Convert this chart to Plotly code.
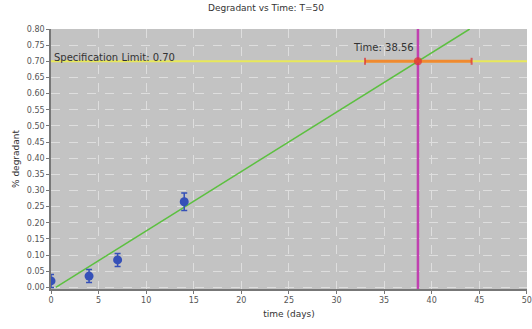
import plotly.graph_objects as go

# data
time_days = [0, 4, 7, 14]
degradant = [0.02, 0.035, 0.085, 0.265]
degradant_err = [0.02, 0.02, 0.02, 0.027]
fit_x = [0.5, 44.0]
fit_y = [0.0, 0.80]
spec_limit = 0.70
cross_time = 38.56
ci_low, ci_high = 33.0, 44.2
x_range = [0, 50.02]
y_range = [-0.005, 0.80]

FONT = "DejaVu Sans"
fig = go.Figure()

# spec limit line
fig.add_trace(go.Scatter(x=x_range, y=[spec_limit, spec_limit], mode="lines",
                         line=dict(color="#e8e85a", width=2), hoverinfo="skip"))
# fit line
fig.add_trace(go.Scatter(x=fit_x, y=fit_y, mode="lines",
                         line=dict(color="#5cc040", width=1.5), hoverinfo="skip"))
# vertical time line
fig.add_trace(go.Scatter(x=[cross_time, cross_time], y=y_range, mode="lines",
                         line=dict(color="#c040b0", width=2.5), hoverinfo="skip"))
# confidence interval bar
fig.add_trace(go.Scatter(x=[ci_low, ci_high], y=[spec_limit, spec_limit], mode="lines",
                         line=dict(color="#f08a30", width=3), hoverinfo="skip"))
fig.add_trace(go.Scatter(x=[ci_low, cross_time, ci_high], y=[spec_limit] * 3, mode="markers",
                         marker=dict(color="#e03030", size=[5, 6, 5], symbol=["line-ns", "circle", "line-ns"],
                                     line=dict(color="#e03030", width=2)),
                         hoverinfo="skip"))
# data points
fig.add_trace(go.Scatter(x=time_days, y=degradant, mode="markers",
                         marker=dict(color="#3550b8", size=9),
                         error_y=dict(type="data", array=degradant_err, color="#3550b8",
                                      thickness=1.5, width=3)))

fig.add_annotation(x=0.1, y=spec_limit, text="Specification Limit: 0.70", showarrow=False,
                   xanchor="left", yanchor="bottom", yshift=-4,
                   font=dict(family=FONT, size=10, color="#333"))
fig.add_annotation(x=cross_time, y=0.742, text="Time: 38.56", showarrow=False,
                   xanchor="right", yanchor="middle", xshift=-2,
                   font=dict(family=FONT, size=10, color="#333"))

fig.update_layout(
    width=532, height=329,
    margin=dict(l=51, r=5, t=29, b=40),
    paper_bgcolor="white", plot_bgcolor="#c3c3c3",
    showlegend=False,
    title=dict(text="Degradant vs Time: T=50", x=0.5, xanchor="center", y=0.985, yanchor="top",
               font=dict(family=FONT, size=9, color="#333")),
    font=dict(family=FONT, size=8, color="#555"),
)
fig.update_xaxes(range=x_range, dtick=5, tick0=0, showgrid=True, gridcolor="#dedede", griddash="dash",
                 gridwidth=1, zeroline=False, showline=True, linecolor="#777", linewidth=1.5,
                 ticks="outside", ticklen=3, tickcolor="#777", ticklabeloverflow="allow",
                 automargin=False,
                 title=dict(text="time (days)", font=dict(family=FONT, size=9, color="#333"), standoff=6))
fig.update_yaxes(range=y_range, dtick=0.05, tick0=0, tickformat=".2f", showgrid=True,
                 gridcolor="#dedede", griddash="dash", gridwidth=1, zeroline=False,
                 showline=True, linecolor="#777", linewidth=1.5,
                 ticks="outside", ticklen=3, tickcolor="#777",
                 title=dict(text="% degradant", font=dict(family=FONT, size=9, color="#333"), standoff=6))

fig.write_html("out.html")
